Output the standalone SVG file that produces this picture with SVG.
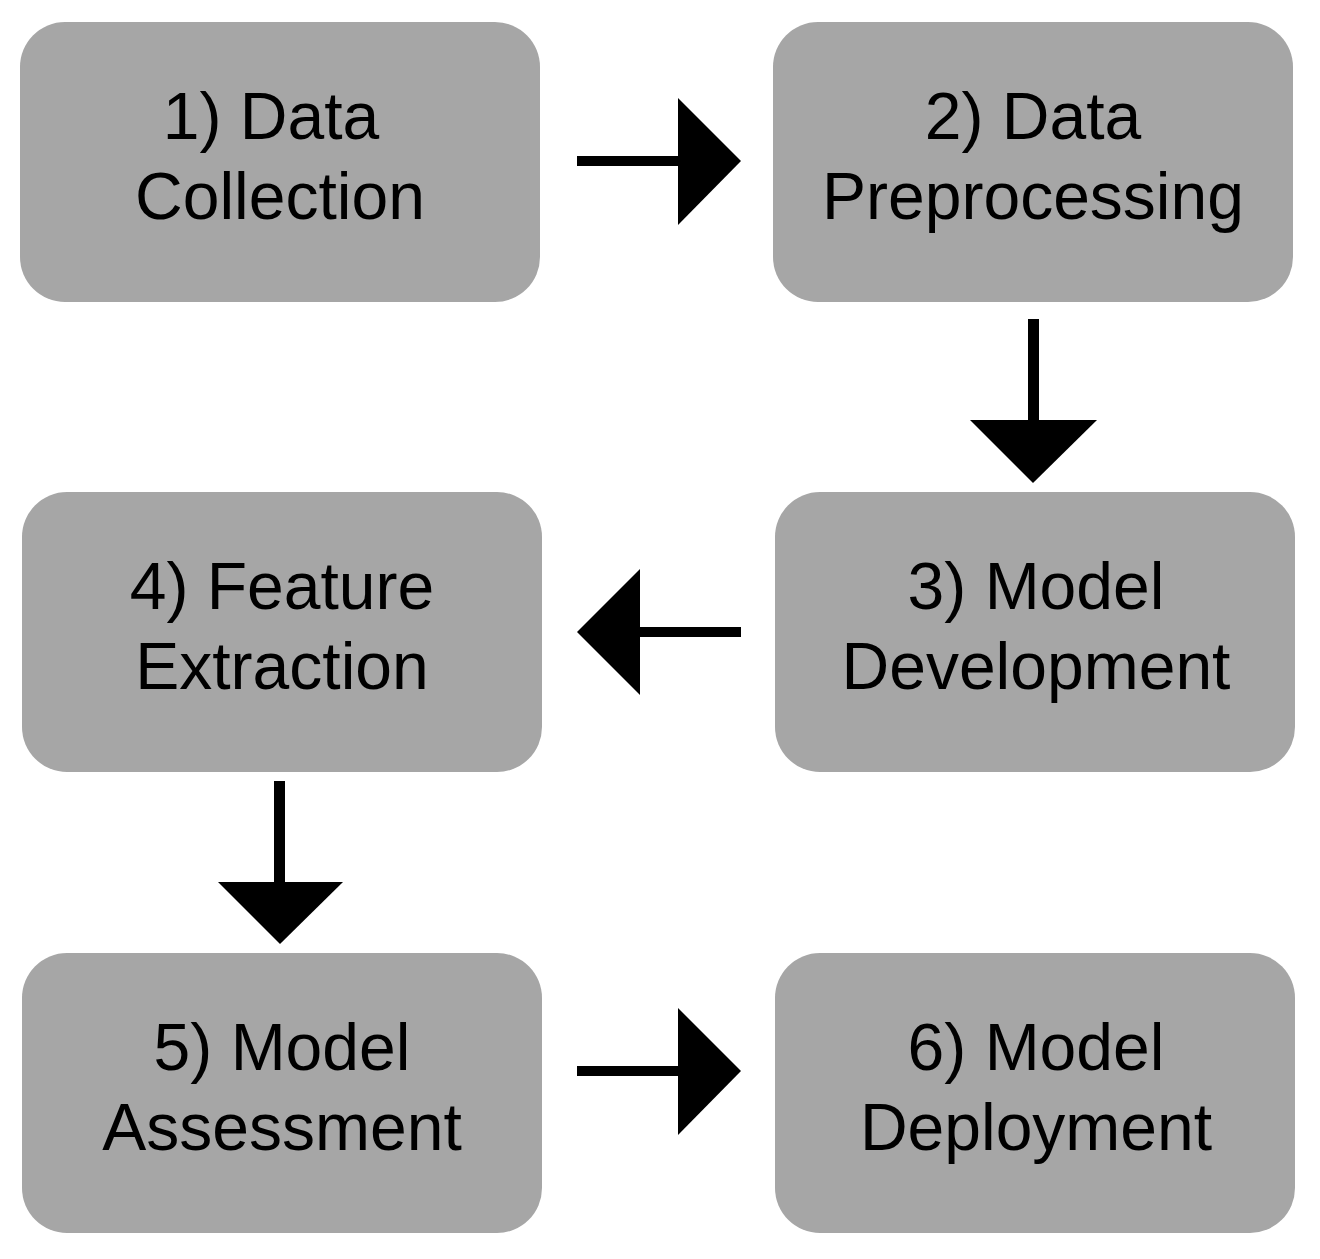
<svg xmlns="http://www.w3.org/2000/svg" width="1320" height="1259" viewBox="0 0 1320 1259">
<style>
.box{fill:#a6a6a6;stroke:none}
.lbl{font-family:"Liberation Sans",Arial,sans-serif;font-size:66px;fill:#000;text-anchor:middle}
.shaft{fill:#000}
</style>
<rect width="1320" height="1259" fill="#fff"/>
<g id="node1"><rect class="box" x="20" y="22" width="520" height="280" rx="45" ry="45"/><text class="lbl" x="271" y="139">1) Data</text><text class="lbl" x="280" y="219">Collection</text></g>
<g id="node2"><rect class="box" x="773" y="22" width="520" height="280" rx="45" ry="45"/><text class="lbl" x="1033" y="139">2) Data</text><text class="lbl" x="1033" y="219">Preprocessing</text></g>
<g id="node3"><rect class="box" x="775" y="492" width="520" height="280" rx="45" ry="45"/><text class="lbl" x="1036" y="609">3) Model</text><text class="lbl" x="1036" y="689">Development</text></g>
<g id="node4"><rect class="box" x="22" y="492" width="520" height="280" rx="45" ry="45"/><text class="lbl" x="282" y="609">4) Feature</text><text class="lbl" x="282" y="689">Extraction</text></g>
<g id="node5"><rect class="box" x="22" y="953" width="520" height="280" rx="45" ry="45"/><text class="lbl" x="282" y="1070">5) Model</text><text class="lbl" x="282" y="1150">Assessment</text></g>
<g id="node6"><rect class="box" x="775" y="953" width="520" height="280" rx="45" ry="45"/><text class="lbl" x="1036" y="1070">6) Model</text><text class="lbl" x="1036" y="1150">Deployment</text></g>
<g id="connectors">
<rect class="shaft" x="577" y="156" width="103" height="10"/><polygon class="shaft" points="678,98 741,161 678,225"/>
<rect class="shaft" x="1028" y="319" width="11" height="103"/><polygon class="shaft" points="970,420 1097,420 1033,483"/>
<rect class="shaft" x="638" y="627" width="103" height="10"/><polygon class="shaft" points="640,569 577,632 640,695"/>
<rect class="shaft" x="274" y="781" width="11" height="103"/><polygon class="shaft" points="218,882 343,882 280,944"/>
<rect class="shaft" x="577" y="1066" width="103" height="10"/><polygon class="shaft" points="678,1008 741,1071 678,1135"/>
</g>
</svg>
